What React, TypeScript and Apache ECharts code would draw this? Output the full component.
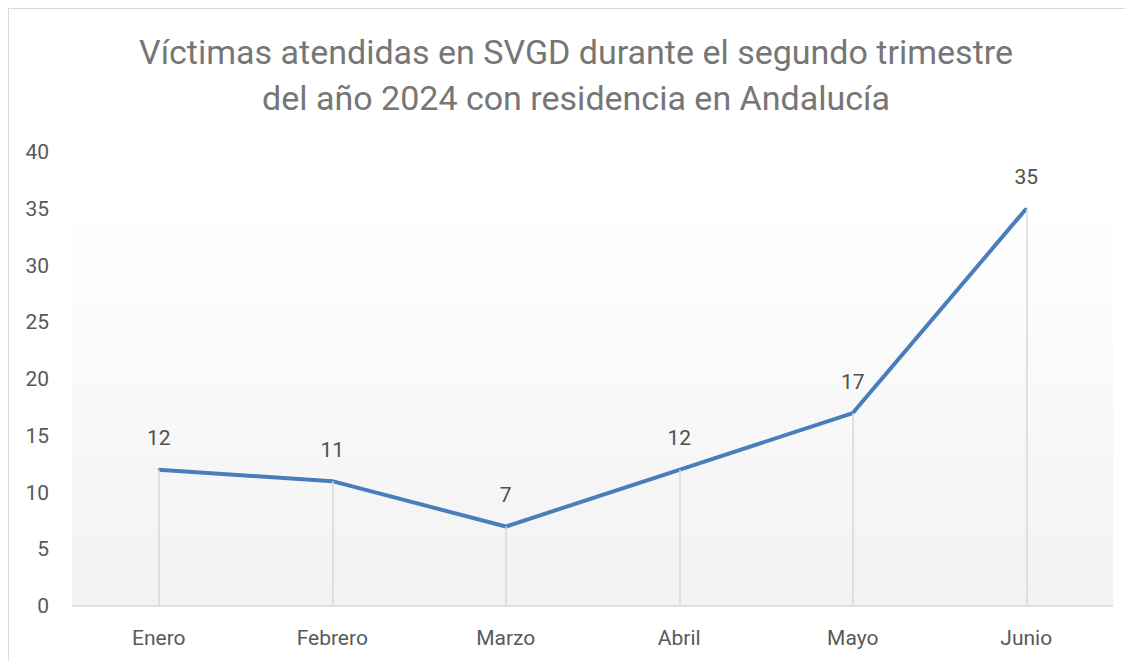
import React, { useEffect, useRef } from "react";
import * as echarts from "echarts";

const categories = ["Enero", "Febrero", "Marzo", "Abril", "Mayo", "Junio"];
const values = [12, 11, 7, 12, 17, 35];
const titleText = "Víctimas atendidas en SVGD durante el segundo trimestre\ndel año 2024 con residencia en Andalucía";
const FONT = "Roboto, 'DejaVu Sans', sans-serif";

export default function App() {
  const ref = useRef<HTMLDivElement>(null);
  useEffect(() => {
    if (!ref.current) return;
    const chart = echarts.init(ref.current, null, { renderer: "svg" });
    chart.setOption({
      animation: false,
      title: {
        text: titleText,
        left: 562,
        top: 15,
        textAlign: "center",
        textStyle: {
          fontFamily: FONT,
          fontSize: 34,
          fontWeight: "normal",
          color: "#767676",
          lineHeight: 46,
        },
      },
      grid: {
        left: 63,
        right: 12,
        top: 143,
        bottom: 55,
        show: true,
        borderWidth: 0,
        backgroundColor: new echarts.graphic.LinearGradient(0, 0, 0, 1, [
          { offset: 0, color: "#ffffff" },
          { offset: 0.1, color: "#ffffff" },
          { offset: 1, color: "#f2f2f2" },
        ]),
      },
      xAxis: {
        type: "category",
        data: categories,
        boundaryGap: true,
        axisLine: { lineStyle: { color: "#d9d9d9", width: 1.5 } },
        axisTick: { show: false },
        axisLabel: {
          fontFamily: FONT,
          fontSize: 21,
          fontWeight: "normal",
          color: "#595959",
          margin: 21,
        },
      },
      yAxis: {
        type: "value",
        min: 0,
        max: 40,
        interval: 5,
        splitLine: { show: false },
        axisLine: { show: false },
        axisTick: { show: false },
        axisLabel: {
          fontFamily: FONT,
          fontSize: 21,
          color: "#595959",
          margin: 23,
        },
      },
      series: [
        {
          type: "line",
          data: values,
          symbol: "circle",
          symbolSize: 2,
          showSymbol: true,
          itemStyle: { color: "#4a7ebb" },
          lineStyle: { color: "#4a7ebb", width: 4 },
          label: {
            show: true,
            position: "top",
            distance: 20,
            fontFamily: FONT,
            fontSize: 21,
            color: "#505050",
          },
          markLine: {
            silent: true,
            symbol: "none",
            label: { show: false },
            lineStyle: { color: "#d9d9d9", width: 1.5, type: "solid" },
            data: values.map((v, i) => [
              { coord: [i, 0] },
              { coord: [i, v] },
            ]),
          },
          z: 3,
        },
      ],
    });
    return () => chart.dispose();
  }, []);
  return (
    <div
      style={{
        width: 1118,
        height: 653,
        boxSizing: "border-box",
        border: "1px solid #d9d9d9",
        borderBottom: "none",
        background: "#ffffff",
      }}
    >
      <div ref={ref} style={{ width: 1116, height: 652 }} />
    </div>
  );
}
